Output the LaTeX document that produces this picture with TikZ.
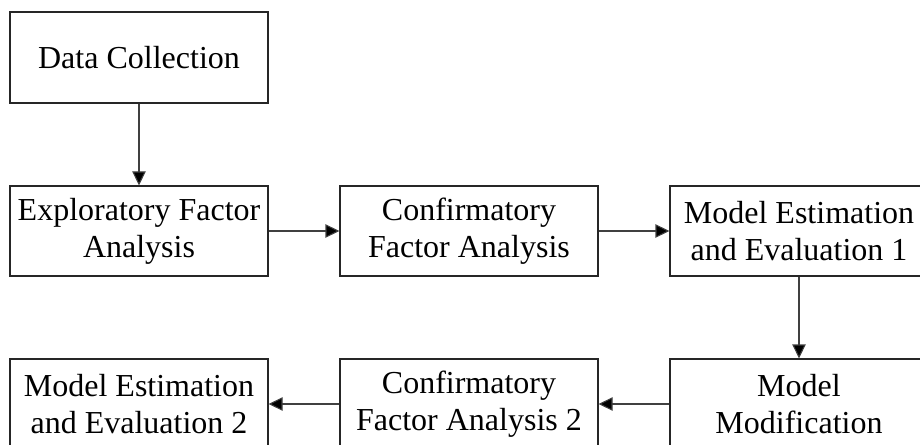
\documentclass[tikz,border=0pt]{standalone}
\usepackage{fontspec}
\setmainfont{Liberation Serif}
\usetikzlibrary{arrows.meta}
\begin{document}
\begin{tikzpicture}[x=0.75pt,y=-0.75pt,
  box/.style={draw=black!85,line width=0.8pt,minimum width=193.5pt,minimum height=67.5pt,inner sep=0pt,align=center,font=\fontsize{24}{27.6}\selectfont},
  conn/.style={draw=black!75,line width=0.8pt,-{Triangle[length=10.5pt,width=10pt,fill=black]}}]
\useasboundingbox (0,0) rectangle (920,445);
\clip (0,0) rectangle (920,445);
\node[box,minimum height=68.25pt] (dc) at (139,57.5) {Data Collection};
\node[box] (efa) at (139,231) {Exploratory Factor\\Analysis};
\node[box] (cfa) at (469,231) {Confirmatory\\Factor Analysis};
\node[box] (me1) at (799,231) {Model Estimation\\and Evaluation 1};
\node[box] (mm) at (799,404) {Model\\Modification};
\node[box] (cfa2) at (469,404) {Confirmatory\\Factor Analysis 2};
\node[box] (me2) at (139,404) {Model Estimation\\and Evaluation 2};
\draw[conn] (dc) -- (efa);
\draw[conn] (efa) -- (cfa);
\draw[conn] (cfa) -- (me1);
\draw[conn] (me1) -- (mm);
\draw[conn] (mm) -- (cfa2);
\draw[conn] (cfa2) -- (me2);
\end{tikzpicture}
\end{document}
